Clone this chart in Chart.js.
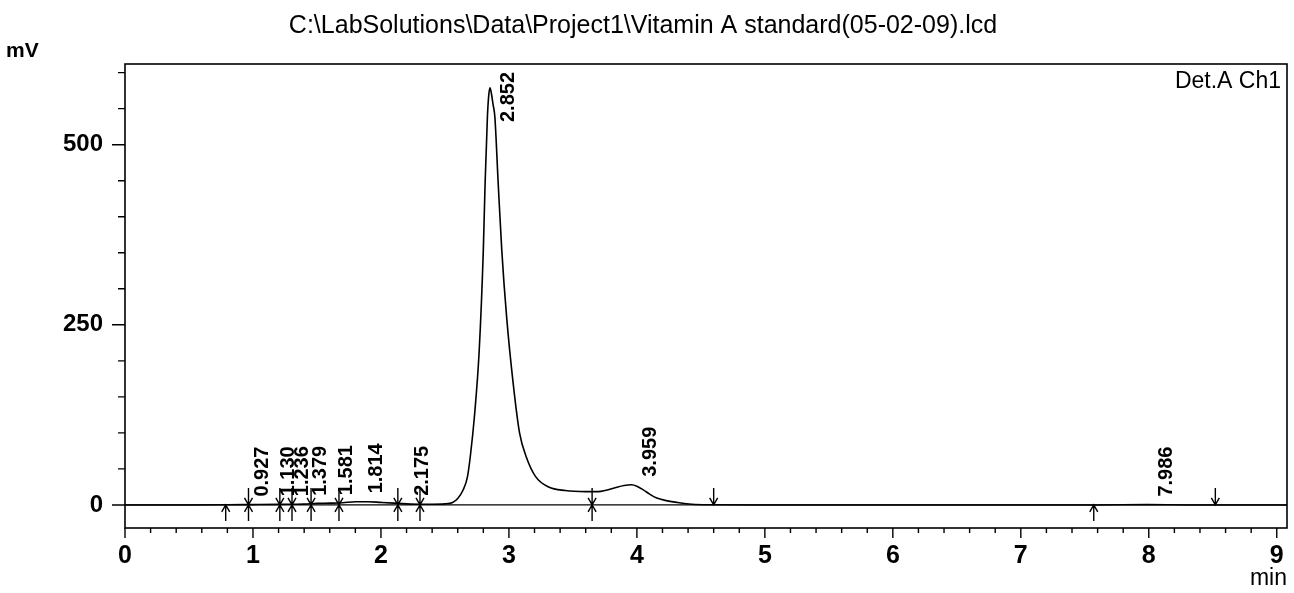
<!DOCTYPE html>
<html>
<head>
<meta charset="utf-8">
<script src="https://cdn.jsdelivr.net/npm/chart.js@4.4.0/dist/chart.umd.min.js"></script>
<style>
  html, body { margin: 0; padding: 0; background: #fff; }
  #wrap { width: 1294px; height: 593px; }
</style>
</head>
<body>
<div id="wrap"><canvas id="chart" width="1294" height="593"></canvas></div>
<script>
// chromatogram (min, mV)
const traceTime = [0, 0.5, 0.8, 1.0, 1.2, 1.4, 1.5, 1.6, 1.7, 1.8, 1.9, 2.0, 2.1, 2.2, 2.3, 2.4, 2.5, 2.56, 2.6, 2.64,
  2.676, 2.70, 2.73, 2.768, 2.80, 2.814, 2.832, 2.842, 2.852, 2.864, 2.876, 2.89, 2.916, 2.944, 2.982, 3.033, 3.083, 3.135,
  3.21, 3.31, 3.44, 3.6, 3.7, 3.75, 3.83, 3.9, 3.959, 4.0, 4.05, 4.1, 4.15, 4.23, 4.33, 4.43, 4.6, 5.0, 6.0, 7.0, 7.6,
  7.986, 8.3, 9.08]
const traceMv = [0, 0, 0.2, 0.5, 0.8, 1.2, 2.2, 2.5, 3, 4.5, 4.5, 3.5, 2.5, 1.5, 1, 1, 1.5, 3.5, 9, 20,
  39, 70, 122, 215, 354, 447, 539, 568, 579, 570, 556, 539, 447, 354, 261, 169, 100, 67,
  39, 25, 20, 18.5, 18.5, 20, 24, 27, 28, 26, 21, 15, 10, 6, 3, 1, 0.3, 0, 0, 0, 0,
  0.5, 0, 0]

// peak retention times and the height the label sits on
const peakTimes = [0.927, 1.130, 1.236, 1.379, 1.581, 1.814, 2.175, 2.852, 3.959, 7.986]
const peakMv = [0.5, 0.8, 1, 1.5, 2.5, 5, 1.5, 579, 28, 0.5]

// integration marks on the baseline
const markUp = [0.787, 7.57]
const markDown = [4.60, 8.52]
const markBoth = [0.965, 1.21, 1.305, 1.454, 1.672, 2.132, 2.305, 3.65]

const xTickLabels = [0, 1, 2, 3, 4, 5, 6, 7, 8, 9]
const yTickLabels = [0, 250, 500]

const titleText = 'C:\\LabSolutions\\Data\\Project1\\Vitamin A standard(05-02-09).lcd'
const FONT = '"Liberation Sans", Arial, sans-serif'

const tracePts = traceTime.map((t, i) => ({x: t, y: traceMv[i]}))

function arrow(ctx, x, y0, dir) {
  // dir -1: tip at baseline pointing up, shaft below; 1: pointing down, shaft above
  const len = dir < 0 ? 16 : 17
  ctx.beginPath()
  ctx.moveTo(x, y0)
  ctx.lineTo(x, y0 - dir * len)
  ctx.moveTo(x - 4, y0 - dir * 7)
  ctx.lineTo(x, y0)
  ctx.lineTo(x + 4, y0 - dir * 7)
  ctx.stroke()
}

const decor = {
  id: 'decor',
  afterDatasetsDraw(chart) {
    const ctx = chart.ctx
    const a = chart.chartArea
    const xs = chart.scales.x
    const ys = chart.scales.y
    ctx.save()
    ctx.strokeStyle = '#000'
    ctx.fillStyle = '#000'

    // frame
    ctx.lineWidth = 1.6
    ctx.strokeRect(a.left, a.top, a.right - a.left, a.bottom - a.top)

    // tick marks
    ctx.lineWidth = 1.4
    ctx.beginPath()
    xs.ticks.forEach(t => {
      const px = xs.getPixelForValue(t.value)
      const major = xTickLabels.some(v => Math.abs(v - t.value) < 1e-6)
      ctx.moveTo(px, a.bottom)
      ctx.lineTo(px, a.bottom + (major ? 10 : 5))
    })
    ys.ticks.forEach(t => {
      const py = ys.getPixelForValue(t.value)
      const major = yTickLabels.some(v => Math.abs(v - t.value) < 1e-6)
      ctx.moveTo(a.left, py)
      ctx.lineTo(a.left - (major ? 13 : 7), py)
    })
    ctx.stroke()

    // integration marks
    const y0 = ys.getPixelForValue(0)
    ctx.lineWidth = 1.4
    markUp.forEach(t => arrow(ctx, xs.getPixelForValue(t), y0, -1))
    markDown.forEach(t => arrow(ctx, xs.getPixelForValue(t), y0, 1))
    markBoth.forEach(t => {
      const px = xs.getPixelForValue(t)
      arrow(ctx, px, y0, -1)
      arrow(ctx, px, y0, 1)
    })

    // peak labels
    ctx.font = 'bold 20px ' + FONT
    ctx.textAlign = 'left'
    ctx.textBaseline = 'middle'
    peakTimes.forEach((t, i) => {
      const txt = t.toFixed(3)
      const w = ctx.measureText(txt).width
      const px = xs.getPixelForValue(t) + 19
      const py = Math.max(ys.getPixelForValue(peakMv[i]) - 8, a.top + 8 + w)
      ctx.save()
      ctx.translate(px, py)
      ctx.rotate(-Math.PI / 2)
      ctx.fillText(txt, 0, 0)
      ctx.restore()
    })

    // texts
    ctx.textBaseline = 'alphabetic'
    ctx.font = '25px ' + FONT
    ctx.textAlign = 'center'
    ctx.fillText(titleText, 643, 33)
    ctx.font = 'bold 21px ' + FONT
    ctx.textAlign = 'left'
    ctx.fillText('mV', 6, 57)
    ctx.font = '23px ' + FONT
    ctx.textAlign = 'right'
    ctx.fillText('Det.A Ch1', 1281, 88)
    ctx.fillText('min', 1287, 585)
    ctx.restore()
  }
}

new Chart(document.getElementById('chart'), {
  type: 'scatter',
  data: {
    datasets: [
      {
        label: 'Det.A Ch1',
        data: tracePts,
        showLine: true,
        borderColor: '#000',
        borderWidth: 1.6,
        pointRadius: 0,
        cubicInterpolationMode: 'monotone'
      },
      {
        label: 'baseline',
        data: [{x: 0, y: 0}, {x: 9.08, y: 0}],
        showLine: true,
        borderColor: '#000',
        borderWidth: 1.2,
        pointRadius: 0
      }
    ]
  },
  options: {
    responsive: false,
    animation: false,
    layout: { padding: { top: 64, right: 7, left: 0, bottom: 0 } },
    plugins: {
      legend: { display: false },
      tooltip: { enabled: false }
    },
    scales: {
      x: {
        type: 'linear',
        min: 0,
        max: 9.08,
        afterFit: s => { s.height = 65 },
        grid: { display: false },
        border: { display: false },
        ticks: {
          stepSize: 0.2,
          includeBounds: false,
          autoSkip: false,
          maxRotation: 0,
          padding: 5,
          color: '#000',
          font: { family: FONT, size: 25, weight: 'bold' },
          callback: v => xTickLabels.some(l => Math.abs(l - v) < 1e-6) ? String(Math.round(v)) : ''
        }
      },
      y: {
        type: 'linear',
        min: -32,
        max: 612,
        afterFit: s => { s.width = 125 },
        grid: { display: false },
        border: { display: false },
        ticks: {
          stepSize: 50,
          includeBounds: false,
          autoSkip: false,
          padding: 14,
          color: '#000',
          font: { family: FONT, size: 24, weight: 'bold' },
          callback: v => yTickLabels.includes(v) ? String(v) : ''
        }
      }
    }
  },
  plugins: [decor]
})
</script>
</body>
</html>
